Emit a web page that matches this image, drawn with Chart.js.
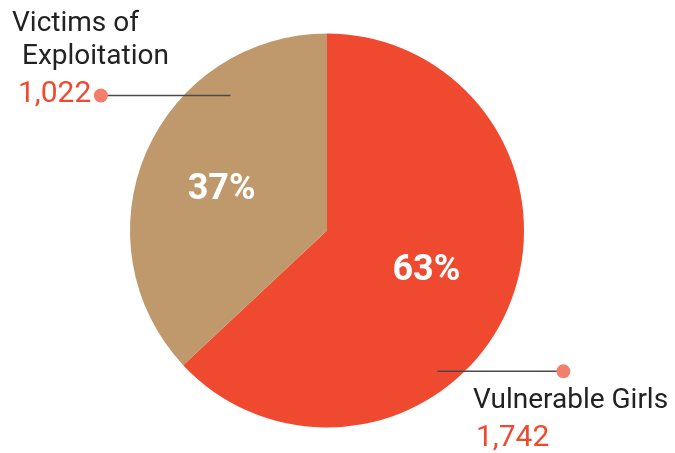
<!DOCTYPE html>
<html>
<head>
<meta charset="utf-8">
<script src="https://cdn.jsdelivr.net/npm/chart.js@4.4.1/dist/chart.umd.min.js"></script>
<style>
  html, body { margin: 0; padding: 0; background: #fff; }
  #wrap { width: 675px; height: 453px; }
</style>
</head>
<body>
<div id="wrap"><canvas id="pie"></canvas></div>
<script>
// data
var labels = ["Vulnerable Girls", "Victims of Exploitation"];
var counts = [1742, 1022];
var colors = ["#EF4A30", "#BF996B"];

var total = counts[0] + counts[1];

// callout labels, drawn after the pie
var calloutPlugin = {
  id: "callouts",
  afterDraw: function(chart) {
    var ctx = chart.ctx;
    var arc = chart.getDatasetMeta(0).data[0];
    var cx = arc.x, cy = arc.y, r = arc.outerRadius;
    ctx.save();

    // percentages inside slices
    chart.getDatasetMeta(0).data.forEach(function(a, i) {
      var mid = (a.startAngle + a.endAngle) / 2;
      var px = cx + Math.cos(mid) * r * 0.55;
      var py = cy + Math.sin(mid) * r * 0.52;
      ctx.fillStyle = "#fff";
      ctx.font = "bold 36px Roboto";
      ctx.textAlign = "center";
      ctx.textBaseline = "middle";
      ctx.fillText(Math.round(counts[i] / total * 100) + "%", px - (i ? 6 : 0), py);
    });

    // leader lines + dots
    function leader(x1, x2, y, dotX) {
      ctx.strokeStyle = "#4a4a4a";
      ctx.lineWidth = 1.5;
      ctx.beginPath();
      ctx.moveTo(x1, y);
      ctx.lineTo(x2, y);
      ctx.stroke();
      ctx.fillStyle = "#F27E6C";
      ctx.beginPath();
      ctx.arc(dotX, y, 7, 0, Math.PI * 2);
      ctx.fill();
    }
    var yTop = cy - r * 0.685;
    leader(cx - r * 1.12, cx - r * 0.49, yTop, cx - r * 1.148);
    var yBot = cy + r * 0.715;
    leader(cx + r * 0.56, cx + r * 1.17, yBot, cx + r * 1.2);

    ctx.textAlign = "left";
    ctx.textBaseline = "alphabetic";
    ctx.fillStyle = "#222";
    ctx.font = "28px Roboto";
    ctx.fillText("Victims of", 12, 31);
    ctx.fillText("Exploitation", 22, 64);
    ctx.fillText(labels[0], 473, 408);

    ctx.fillStyle = "#EF4A30";
    ctx.font = "30px Roboto";
    ctx.fillText(counts[1].toLocaleString("en-US"), 18, 102);
    ctx.fillText(counts[0].toLocaleString("en-US"), 476, 446);
    ctx.restore();
  }
};

new Chart(document.getElementById("pie"), {
  type: "pie",
  data: {
    labels: labels,
    datasets: [{
      data: counts,
      backgroundColor: colors,
      borderWidth: 0
    }]
  },
  options: {
    responsive: true,
    maintainAspectRatio: false,
    animation: false,
    layout: { padding: { left: 130, right: 151, top: 33, bottom: 25 } },
    plugins: {
      legend: { display: false },
      tooltip: { enabled: false }
    }
  },
  plugins: [calloutPlugin]
});
</script>
</body>
</html>
